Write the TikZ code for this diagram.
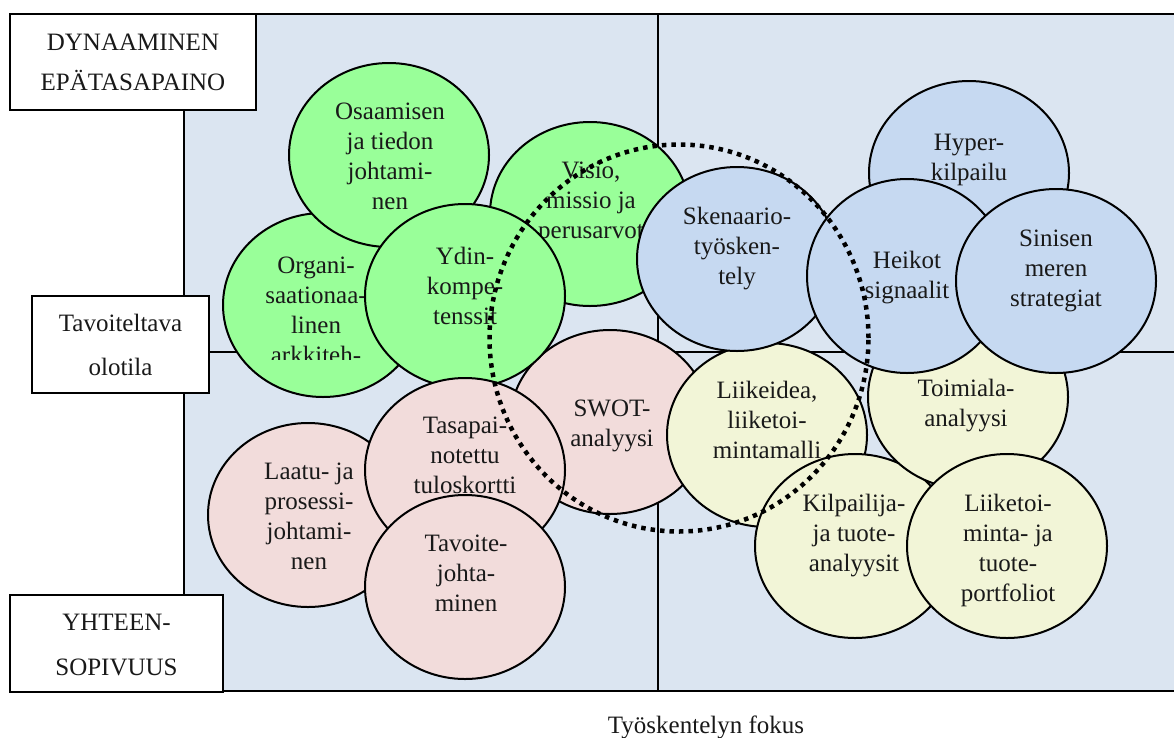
\documentclass[tikz,border=0pt]{standalone}
\usepackage{fontspec}
\setmainfont{Liberation Serif}
\usetikzlibrary{shapes.geometric}

\definecolor{panelbg}{HTML}{DBE5F1}
\definecolor{bgreen}{HTML}{99FF99}
\definecolor{bblue}{HTML}{C6D9F1}
\definecolor{bpink}{HTML}{F2DCDB}
\definecolor{byellow}{HTML}{F2F5D7}

\tikzset{
  bubble/.style={ellipse, draw=black, line width=2pt, inner sep=0pt,
                 minimum width=200pt, minimum height=184pt},
  btext/.style={align=center, inner sep=0pt, text=black!90,
                font=\fontsize{25}{30}\selectfont},
  labelbox/.style={rectangle, draw=black, fill=white, line width=2pt,
                   align=center, inner sep=0pt, text=black!90},
  frame/.style={line width=2pt, draw=black},
  focus/.style={line width=4.5pt, dash pattern=on 4.5pt off 5pt}
}

\begin{document}
\begin{tikzpicture}[x=1pt, y=-1pt]
\useasboundingbox (0,0) rectangle (1174,737);

% four quadrants
\fill[panelbg] (184,14) rectangle (1180,691);
\draw[frame] (184,14) -- (1180,14);
\draw[frame] (184,14) -- (184,691) -- (1180,691);
\draw[frame] (658,14) -- (658,691);
\draw[frame] (184,352) -- (1180,352);

% green group
\node[bubble, fill=bgreen] (org) at (323,305) {};
\begin{scope}
  \clip (200,240) rectangle (460,359);
  \node[btext] (org-t) at (316,312) {\strut Organi-\\\strut saationaa-\\\strut linen\\\strut arkkiteh-};
\end{scope}
\node[bubble, fill=bgreen] (osa) at (389,155) {};
\node[btext] (osa-t) at (390,158) {\strut Osaamisen\\\strut ja tiedon\\\strut johtami-\\\strut nen};
\node[bubble, fill=bgreen] (vis) at (590,214) {};
\node[btext] (vis-t) at (591,202) {\strut Visio,\\\strut missio ja\\\strut perusarvot};

% pink group
\node[bubble, fill=bpink] (swot) at (610,422) {};
\node[btext] (swot-t) at (612,425) {\strut SWOT-\\\strut analyysi};
\node[bubble, fill=bgreen] (ydin) at (465,296) {};
\node[btext] (ydin-t) at (465,288) {\strut Ydin-\\\strut kompe-\\\strut tenssit};
\node[bubble, fill=bpink] (laa) at (308,515) {};
\node[btext] (laa-t) at (309,518) {\strut Laatu- ja\\\strut prosessi-\\\strut johtami-\\\strut nen};
\node[bubble, fill=bpink] (tas) at (465,470) {};
\node[btext] (tas-t) at (465,457) {\strut Tasapai-\\\strut notettu\\\strut tuloskortti};
\node[bubble, fill=bpink] (tav) at (465,587) {};
\node[btext] (tav-t) at (466,575) {\strut Tavoite-\\\strut johta-\\\strut minen};

% blue and yellow groups
\node[bubble, fill=bblue] (hyp) at (969,173) {};
\node[btext] (hyp-t) at (969,159) {\strut Hyper-\\\strut kilpailu};
\node[bubble, fill=byellow] (lii) at (767,435) {};
\node[btext] (lii-t) at (767,422) {\strut Liikeidea,\\\strut liiketoi-\\\strut mintamalli};
\node[bubble, fill=bblue] (ske) at (737,259) {};
\node[btext] (ske-t) at (737,248) {\strut Skenaario-\\\strut työsken-\\\strut tely};
\node[bubble, fill=byellow] (kil) at (855,546) {};
\node[btext] (kil-t) at (854,535) {\strut Kilpailija-\\\strut ja tuote-\\\strut analyysit};
\node[bubble, fill=byellow] (toi) at (968,397) {};
\node[btext] (toi-t) at (966,405) {\strut Toimiala-\\\strut analyysi};
\node[bubble, fill=bblue, minimum height=194pt] (hei) at (907,276) {};
\node[btext] (hei-t) at (907,277) {\strut Heikot\\\strut signaalit};
\node[bubble, fill=bblue] (sin) at (1056,281) {};
\node[btext] (sin-t) at (1056,270) {\strut Sinisen\\\strut meren\\\strut strategiat};
\node[bubble, fill=byellow] (lto) at (1007,546) {};
\node[btext] (lto-t) at (1008,550) {\strut Liiketoi-\\\strut minta- ja\\\strut tuote-\\\strut portfoliot};

% focus area
\node[ellipse, draw=black, focus, inner sep=0pt,
      minimum width=379pt, minimum height=387pt] (fok) at (679,338) {};

% axis labels
\node[labelbox, minimum width=246pt, minimum height=96pt,
      font=\fontsize{25}{40}\selectfont] (dyn) at (133,62)
      {\strut DYNAAMINEN\\\strut EPÄTASAPAINO};
\node[labelbox, minimum width=177pt, minimum height=97pt,
      font=\fontsize{25}{44}\selectfont] (tav-o) at (120.5,344.5)
      {\strut Tavoiteltava\\\strut olotila};
\node[labelbox, minimum width=213pt, minimum height=97pt,
      font=\fontsize{25}{45}\selectfont] (yht) at (116.5,643.5)
      {\strut YHTEEN-\\\strut SOPIVUUS};
\node[btext] (tyo) at (706,727) {Työskentelyn fokus};
\end{tikzpicture}
\end{document}
